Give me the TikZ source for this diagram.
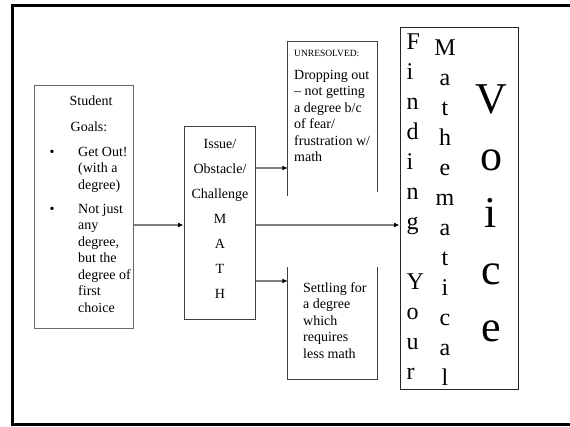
\documentclass[tikz,border=0pt]{standalone}
\usepackage{fontspec}
\setmainfont{Liberation Serif}
\usetikzlibrary{arrows.meta}
\tikzset{
  boxn/.style={draw=black!75, line width=1pt, inner sep=0pt},
  openbox/.style={draw=none, inner sep=0pt},
  edge/.style={draw=black!75, line width=1pt},
  conn/.style={draw=black!50, line width=1.3pt, -{Latex[length=5.5pt,width=5pt,color=black]}},
  txt/.style={inner sep=0pt, font=\fontsize{14}{16.5}\selectfont},
  smalltxt/.style={inner sep=0pt, font=\fontsize{9.5}{11}\selectfont},
  midtxt/.style={inner sep=0pt, font=\fontsize{24}{30}\selectfont},
  bigtxt/.style={inner sep=0pt, font=\fontsize{44}{57}\selectfont},
}
\begin{document}
\begin{tikzpicture}[x=1pt,y=-1pt]
\useasboundingbox (0,0) rectangle (570,426);
\fill[white] (0,0) rectangle (570,426);
% outer frame (open at right)
\draw[line width=2.6pt, black] (570,5.5) -- (12.5,5.5) -- (12.5,424.5) -- (570,424.5);

% boxes
\node[boxn, draw=black!60, minimum width=99pt, minimum height=243pt] (goals) at (83.5,206.5) {};
\node[boxn, minimum width=71pt, minimum height=193pt] (issue) at (219.5,222.5) {};
\node[openbox, minimum width=89pt, minimum height=154pt] (unres) at (332.5,119) {};
\node[openbox, minimum width=89pt, minimum height=112pt] (settle) at (332.5,323) {};
\node[boxn, draw=black!85, minimum width=118pt, minimum height=362pt] (voice) at (459,208) {};

\draw[edge] (unres.south west) -- (unres.north west) -- (unres.north east) -- ([yshift=4pt]unres.south east);
\draw[edge] (settle.north west) -- (settle.south west) -- (settle.south east) -- (settle.north east);

% connectors
\coordinate (rowA) at (0,168);
\coordinate (rowB) at (0,225);
\coordinate (rowC) at (0,281);
\draw[conn] (goals.east |- rowB) -- (issue.west |- rowB);
\draw[conn] (issue.east |- rowA) -- (unres.west |- rowA);
\draw[conn] (issue.east |- rowB) -- (voice.west |- rowB);
\draw[conn] (issue.east |- rowC) -- (settle.west |- rowC);

% student goals text
\node[txt, anchor=base] (gt1) at (91,105) {Student};
\node[txt, anchor=base] (gt2) at (89,131) {Goals:};
\node[txt, anchor=base] (gb1) at (52,156) {\textbullet};
\node[txt, anchor=base] (gb2) at (52,213) {\textbullet};
\node[txt, anchor=base west] (g1) at (78,156) {Get Out!};
\node[txt, anchor=base west] (g2) at (78,172.5) {(with a};
\node[txt, anchor=base west] (g3) at (78,189) {degree)};
\node[txt, anchor=base west] (g4) at (78,213) {Not just};
\node[txt, anchor=base west] (g5) at (78,229.5) {any};
\node[txt, anchor=base west] (g6) at (78,246) {degree,};
\node[txt, anchor=base west] (g7) at (78,262.5) {but the};
\node[txt, anchor=base west] (g8) at (78,279) {degree of};
\node[txt, anchor=base west] (g9) at (78,295.5) {first};
\node[txt, anchor=base west] (g10) at (78,312) {choice};

% issue text
\node[txt, anchor=base] (i1) at (220,148) {Issue/};
\node[txt, anchor=base] (i2) at (220,173) {Obstacle/};
\node[txt, anchor=base] (i3) at (220,198) {Challenge};
\node[txt, anchor=base] (i4) at (220,223) {M};
\node[txt, anchor=base] (i5) at (220,248) {A};
\node[txt, anchor=base] (i6) at (220,273) {T};
\node[txt, anchor=base] (i7) at (220,298) {H};

% unresolved text
\node[smalltxt, anchor=base west] (u0) at (294,56) {UNRESOLVED:};
\node[txt, anchor=base west] (u1) at (294,79) {Dropping out};
\node[txt, anchor=base west] (u2) at (294,95.5) {– not getting};
\node[txt, anchor=base west] (u3) at (294,112) {a degree b/c};
\node[txt, anchor=base west] (u4) at (294,128.5) {of fear/};
\node[txt, anchor=base west] (u5) at (294,145) {frustration w/};
\node[txt, anchor=base west] (u6) at (294,161.5) {math};

% settling text
\node[txt, anchor=base west] (s1) at (303,292) {Settling for};
\node[txt, anchor=base west] (s2) at (303,308.5) {a degree};
\node[txt, anchor=base west] (s3) at (303,325) {which};
\node[txt, anchor=base west] (s4) at (303,341.5) {requires};
\node[txt, anchor=base west] (s5) at (303,358) {less math};

% Finding Your
\foreach \l/\y [count=\i] in {F/49,i/79,n/109,d/139,i/169,n/199,g/229,Y/289,o/319,u/349,r/379}
  \node[midtxt, anchor=base west] (fy\i) at (406.5,\y) {\l};
% Mathematical
\foreach \l/\y [count=\i] in {M/55,a/85,t/115,h/145,e/175,m/205,a/235,t/265,i/295,c/325,a/355,l/385}
  \node[midtxt, anchor=base] (ma\i) at (445,\y) {\l};
% Voice
\foreach \l/\y [count=\i] in {V/113,o/170,i/227,c/284,e/341}
  \node[bigtxt, anchor=base] (vo\i) at (491,\y) {\l};
\end{tikzpicture}
\end{document}
